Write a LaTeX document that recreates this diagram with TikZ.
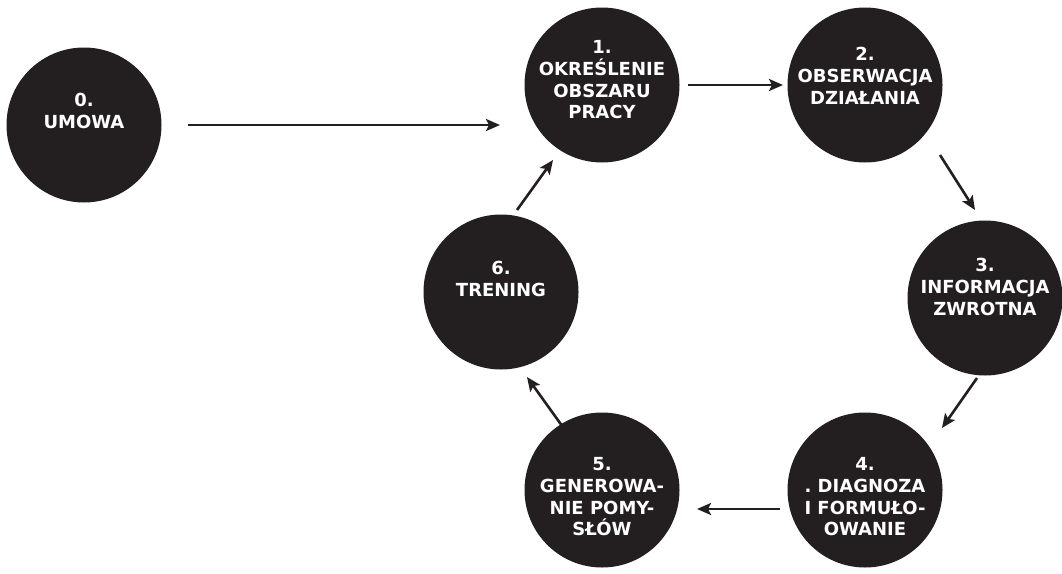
\documentclass[tikz,border=0pt]{standalone}
\usepackage{fontspec}
\setmainfont{DejaVu Sans}
\usetikzlibrary{arrows.meta}
\definecolor{ink}{HTML}{231F20}
\frenchspacing
\begin{document}
\begin{tikzpicture}[x=1pt,y=-1pt,
  circ/.style={circle,fill=ink,inner sep=0pt,minimum size=155pt},
  lbl/.style={text=white,align=center,font=\fontsize{18}{21.7}\selectfont\bfseries,inner sep=0pt},
  arr/.style={draw=ink,line width=2.6pt,-{Stealth[length=14pt,width=12pt,inset=3pt]}}]
\useasboundingbox (0,0) rectangle (1062,573);
\node[circ] (n0) at (84,125) {};
\node[circ] (n1) at (602,85) {};
\node[circ] (n2) at (865,85) {};
\node[circ] (n3) at (985,298) {};
\node[circ] (n4) at (865,490) {};
\node[circ] (n5) at (602,490) {};
\node[circ] (n6) at (501,292) {};
\node[lbl] (t0) at ([yshift=14pt]n0.center) {0.\\UMOWA};
\node[lbl] (t1) at ([yshift=5pt]n1.center) {1.\\OKREŚLENIE\\OBSZARU\\PRACY};
\node[lbl] (t2) at ([yshift=9pt]n2.center) {2.\\OBSERWACJA\\DZIAŁANIA};
\node[lbl] (t3) at ([yshift=11pt]n3.center) {3.\\INFORMACJA\\ZWROTNA};
\node[lbl] (t4) at ([yshift=-7pt]n4.center) {4.\\. DIAGNOZA\\I FORMUŁO-\\OWANIE};
\node[lbl] (t5) at ([yshift=-7pt]n5.center) {5.\\GENEROWA-\\NIE POMY-\\SŁÓW};
\node[lbl] (t6) at ([yshift=13pt]n6.center) {6.\\TRENING};
\draw[arr] ([shift={(104,0)}]n0.center) -- ([shift={(-102,40)}]n1.center);
\draw[arr] ([shift={(86,0)}]n1.center) -- ([shift={(-82,0)}]n2.center);
\draw[arr] ([shift={(75,70)}]n2.center) -- ([shift={(-10,-88)}]n3.center);
\draw[arr] ([shift={(-8,80)}]n3.center) -- ([shift={(77,-62)}]n4.center);
\draw[arr] ([shift={(-85,19)}]n4.center) -- ([shift={(95,19)}]n5.center);
\draw[arr] ([shift={(-37,-60)}]n5.center) -- ([shift={(26,85)}]n6.center);
\draw[arr] ([shift={(16,-82)}]n6.center) -- ([shift={(-49,75)}]n1.center);
\end{tikzpicture}
\end{document}
